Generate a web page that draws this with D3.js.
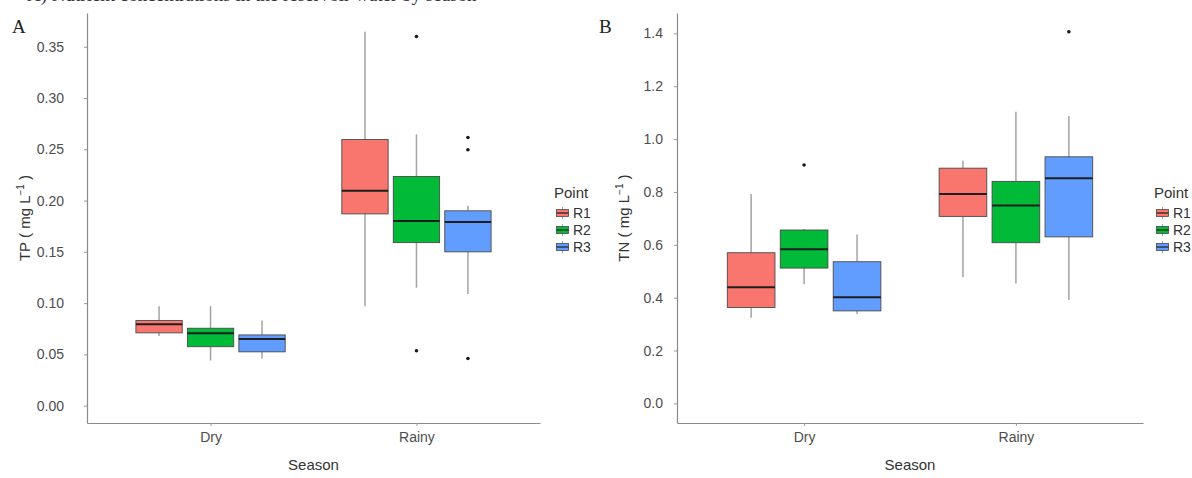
<!DOCTYPE html>
<html>
<head>
<meta charset="utf-8">
<script src="https://cdn.jsdelivr.net/npm/d3@7"></script>
<style>
  body { margin: 0; background: #fff; }
  svg { display: block; font-family: "Liberation Sans", Arial, sans-serif; }
</style>
</head>
<body>
<svg id="chart" width="1192" height="478"></svg>
<script>
// ---- data -------------------------------------------------------------
const seasons = ["Dry", "Rainy"];
const points = ["R1", "R2", "R3"];
const pointColors = ["#F8766D", "#00BA38", "#619CFF"];

// five-number summaries: [lower whisker, Q1, median, Q3, upper whisker]
// rows = season (Dry, Rainy), columns = point (R1, R2, R3)
const tpStats = [
  [[0.068, 0.071, 0.0795, 0.083, 0.097], [0.044, 0.0575, 0.0705, 0.0755, 0.097], [0.046, 0.0525, 0.065, 0.069, 0.083]],
  [[0.097, 0.187, 0.2095, 0.2595, 0.3645], [0.115, 0.159, 0.180, 0.2235, 0.2645], [0.109, 0.150, 0.179, 0.190, 0.195]]
];
const tpOutliers = [
  [[], [], []],
  [[], [0.360, 0.0535], [0.2615, 0.2495, 0.046]]
];
const tnStats = [
  [[0.324, 0.363, 0.439, 0.570, 0.792], [0.451, 0.512, 0.583, 0.656, 0.660], [0.338, 0.350, 0.402, 0.536, 0.639]],
  [[0.477, 0.7075, 0.792, 0.890, 0.918], [0.454, 0.608, 0.749, 0.840, 1.103], [0.391, 0.630, 0.852, 0.933, 1.087]]
];
const tnOutliers = [
  [[], [0.902], []],
  [[], [], [1.406]]
];
const tpTicks = [0, 0.05, 0.10, 0.15, 0.20, 0.25, 0.30, 0.35];
const tnTicks = [0, 0.2, 0.4, 0.6, 0.8, 1.0, 1.2, 1.4];

// ---- layout -----------------------------------------------------------
const svg = d3.select("#chart");

// figure caption running off the top edge
svg.append("text")
  .attr("x", 27).attr("y", 0.5)
  .attr("font-family", "'Liberation Serif', 'Times New Roman', serif")
  .attr("font-size", 19).attr("fill", "#333")
  .text("A) Nutrient concentrations in the reservoir water by season");

const panels = [
  {
    stats: tpStats, outliers: tpOutliers, ticks: tpTicks, fmt: d3.format(".2f"),
    left: 87, right: 540, top: 13, bottom: 423, yDomain: [-0.0169, 0.3829],
    tickPad: 20, yLabel: "TP", yLabelX: 25, letter: "A", letterX: 12, legendX: 554
  },
  {
    stats: tnStats, outliers: tnOutliers, ticks: tnTicks, fmt: d3.format(".1f"),
    left: 677, right: 1143, top: 13, bottom: 423, yDomain: [-0.0742, 1.4771],
    tickPad: 11, yLabel: "TN", yLabelX: 624, letter: "B", letterX: 599, legendX: 1154
  }
];

const dodge = 0.25;     // offset between points within a season, in category steps
const boxWidth = 0.225; // box width, in category steps

panels.forEach(p => {
  const g = svg.append("g");
  const x = d3.scalePoint().domain(seasons).range([p.left, p.right]).padding(0.6);
  const y = d3.scaleLinear().domain(p.yDomain).range([p.bottom, p.top]);
  const step = x.step();

  // y axis
  const yAxis = g.append("g")
    .attr("transform", `translate(${p.left},0)`)
    .call(d3.axisLeft(y).tickValues(p.ticks).tickFormat(p.fmt)
      .tickSize(3).tickSizeOuter(0).tickPadding(p.tickPad));
  // x axis
  const xAxis = g.append("g")
    .attr("transform", `translate(0,${p.bottom})`)
    .call(d3.axisBottom(x).tickSize(3).tickSizeOuter(0).tickPadding(6));

  [yAxis, xAxis].forEach(a => {
    a.select(".domain").attr("stroke", "#8a8a8a").attr("stroke-width", 1.2);
    a.selectAll(".tick line").attr("stroke", "#9a9a9a");
    a.selectAll(".tick text").attr("fill", "#4d4d4d").attr("font-size", 14)
      .attr("font-family", "'Liberation Sans', Arial, sans-serif");
  });

  // boxes
  seasons.forEach((s, si) => {
    points.forEach((pt, pi) => {
      const [lo, q1, med, q3, hi] = p.stats[si][pi];
      const cx = x(s) + (pi - 1) * dodge * step;
      const w = boxWidth * step;
      g.append("line")
        .attr("x1", cx).attr("x2", cx).attr("y1", y(q3)).attr("y2", y(hi))
        .attr("stroke", "#a3a3a3").attr("stroke-width", 1.5);
      g.append("line")
        .attr("x1", cx).attr("x2", cx).attr("y1", y(q1)).attr("y2", y(lo))
        .attr("stroke", "#a3a3a3").attr("stroke-width", 1.5);
      g.append("rect")
        .attr("x", cx - w / 2).attr("y", y(q3))
        .attr("width", w).attr("height", y(q1) - y(q3))
        .attr("fill", pointColors[pi])
        .attr("stroke", "#4a4a4a").attr("stroke-width", 0.9);
      g.append("line")
        .attr("x1", cx - w / 2).attr("x2", cx + w / 2)
        .attr("y1", y(med)).attr("y2", y(med))
        .attr("stroke", "#1e1e1e").attr("stroke-width", 2);
      p.outliers[si][pi].forEach(v => {
        g.append("circle").attr("cx", cx).attr("cy", y(v)).attr("r", 1.8).attr("fill", "#1a1a1a");
      });
    });
  });

  // axis titles
  g.append("text")
    .attr("x", (p.left + p.right) / 2).attr("y", 470)
    .attr("text-anchor", "middle").attr("font-size", 15).attr("fill", "#333")
    .text("Season");

  const yt = g.append("text")
    .attr("transform", `translate(${p.yLabelX},${(p.top + p.bottom) / 2}) rotate(-90)`)
    .attr("text-anchor", "middle").attr("dy", "0.35em")
    .attr("font-size", 15).attr("fill", "#333");
  yt.append("tspan").text(`${p.yLabel} ( mg L`);
  yt.append("tspan").attr("dy", -6).attr("font-size", 10).text("−1");
  yt.append("tspan").attr("dy", 6).text(" )");

  // panel letter
  g.append("text")
    .attr("x", p.letterX).attr("y", 33)
    .attr("font-family", "'Liberation Serif', 'Times New Roman', serif")
    .attr("font-size", 19).attr("fill", "#222")
    .text(p.letter);

  // legend
  const lg = g.append("g").attr("transform", `translate(${p.legendX},0)`);
  lg.append("text").attr("x", 0).attr("y", 198)
    .attr("font-size", 15).attr("fill", "#333").text("Point");
  points.forEach((pt, i) => {
    const cy = 213 + i * 17;
    lg.append("line").attr("x1", 8.5).attr("x2", 8.5).attr("y1", cy - 6).attr("y2", cy + 6)
      .attr("stroke", "#a3a3a3").attr("stroke-width", 1);
    lg.append("rect").attr("x", 2.5).attr("y", cy - 3.5).attr("width", 12).attr("height", 7)
      .attr("fill", pointColors[i]).attr("stroke", "#4a4a4a").attr("stroke-width", 0.8);
    lg.append("line").attr("x1", 2.5).attr("x2", 14.5).attr("y1", cy).attr("y2", cy)
      .attr("stroke", "#1e1e1e").attr("stroke-width", 1.2);
    lg.append("text").attr("x", 19).attr("y", cy + 5)
      .attr("font-size", 14).attr("fill", "#333").text(pt);
  });
});
</script>
</body>
</html>
